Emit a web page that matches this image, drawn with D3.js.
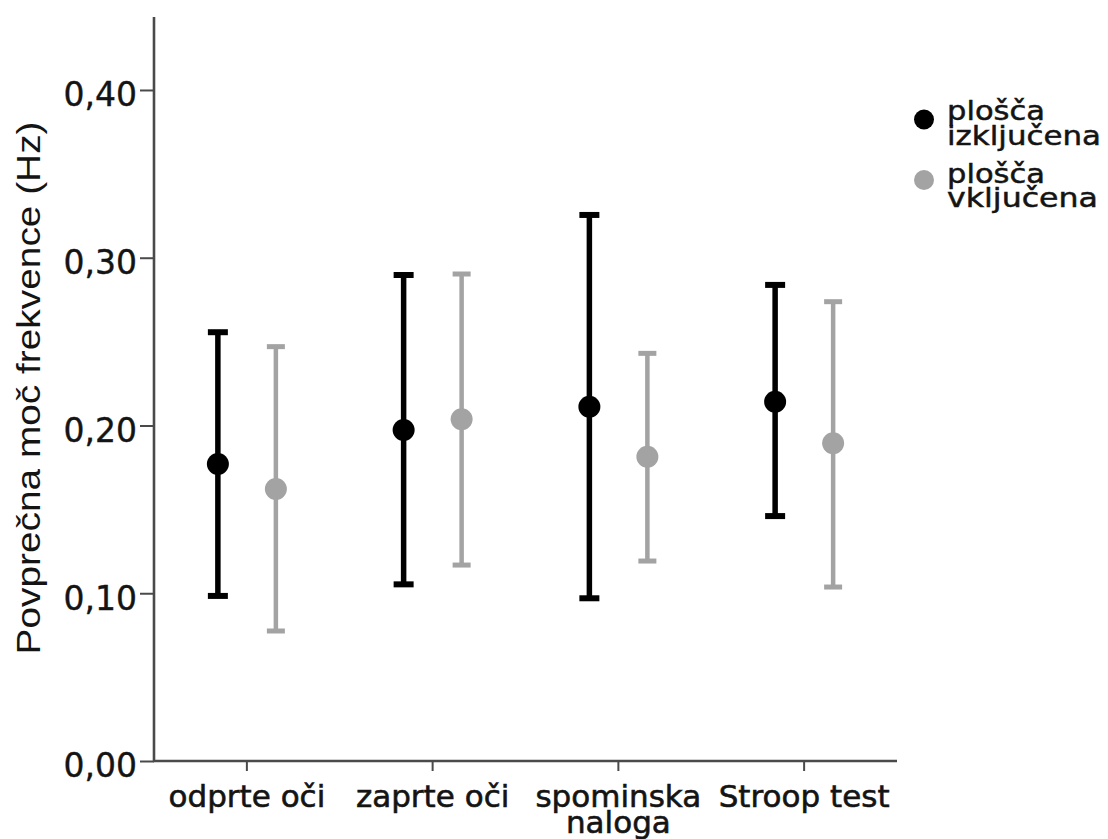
<!DOCTYPE html>
<html>
<head>
<meta charset="utf-8">
<script src="https://cdn.jsdelivr.net/npm/d3@7"></script>
<style>
  html, body { margin: 0; padding: 0; background: #fff; }
  svg { display: block; }
</style>
</head>
<body>
<svg id="chart" width="1108" height="839"></svg>
<script>
// ---- data ----
const categories = ["odprte oči", "zaprte oči", "spominska naloga", "Stroop test"];
const categoryLines = [["odprte oči"], ["zaprte oči"], ["spominska", "naloga"], ["Stroop test"]];
const seriesNames = ["plošča izključena", "plošča vključena"];
const legendLines = [["plošča", "izključena"], ["plošča", "vključena"]];
const meanOff  = [0.1770, 0.1973, 0.2112, 0.2142];
const upperOff = [0.2556, 0.2897, 0.3255, 0.2838];
const lowerOff = [0.0984, 0.1053, 0.0970, 0.1460];
const meanOn   = [0.1621, 0.2037, 0.1814, 0.1894];
const upperOn  = [0.2470, 0.2903, 0.2430, 0.2738];
const lowerOn  = [0.0775, 0.1168, 0.1192, 0.1037];
const yTicks = [0, 0.1, 0.2, 0.3, 0.4];
const yMax = 0.4435;
const yTitle = "Povprečna moč frekvence (Hz)";

const colors = ["#000000", "#a3a3a3"];

(function draw() {
const svg = d3.select("#chart");
const mLeft = 154, mRight = 897, mTop = 17, mBottom = 761;

const x = d3.scaleBand().domain(categories).range([mLeft, mRight]).padding(0);
const xs = d3.scalePoint().domain(seriesNames).range([-29, 29]);
const y = d3.scaleLinear().domain([0, yMax]).range([mBottom, mTop]);

const locale = d3.formatLocale({decimal: ",", thousands: ".", grouping: [3], currency: ["", ""]});
const fmt = locale.format(".2f");

const textColor = "#141414";
// axes
const axisColor = "#4a4a4a";
const yAxis = svg.append("g").attr("transform", `translate(${mLeft},0)`)
  .call(d3.axisLeft(y).tickValues(yTicks).tickFormat(fmt).tickSize(14).tickPadding(3));
yAxis.select(".domain").remove();
yAxis.selectAll(".tick line").attr("stroke", axisColor).attr("stroke-width", 2);
yAxis.selectAll(".tick text")
  .attr("font-family", "DejaVu Sans, Verdana, sans-serif")
  .attr("font-size", 33).attr("fill", textColor)
  .attr("stroke", textColor).attr("stroke-width", 0.4)
  .attr("dy", "0.48em");
svg.append("line").attr("x1", mLeft).attr("x2", mLeft).attr("y1", mTop).attr("y2", mBottom + 1)
  .attr("stroke", axisColor).attr("stroke-width", 2.6);

const xAxis = svg.append("g").attr("transform", `translate(0,${mBottom})`)
  .call(d3.axisBottom(x).tickSize(10).tickFormat(""));
xAxis.select(".domain").remove();
xAxis.selectAll(".tick line").attr("stroke", axisColor).attr("stroke-width", 2);
svg.append("line").attr("x1", mLeft - 1).attr("x2", mRight).attr("y1", mBottom).attr("y2", mBottom)
  .attr("stroke", axisColor).attr("stroke-width", 2.6);

// x labels
categories.forEach((c, i) => {
  const cx = x(c) + x.bandwidth() / 2;
  categoryLines[i].forEach((ln, j) => {
    svg.append("text")
      .attr("x", cx)
      .attr("y", 807 + j * 26)
      .attr("text-anchor", "middle")
      .attr("font-family", "DejaVu Sans, Verdana, sans-serif")
      .attr("font-size", 31).attr("fill", textColor)
      .attr("stroke", textColor).attr("stroke-width", 0.6)
      .text(ln);
  });
});

// y title
svg.append("text")
  .attr("transform", `translate(40,388) rotate(-90)`)
  .attr("text-anchor", "middle")
  .attr("font-family", "Liberation Sans, Arial, sans-serif")
  .attr("font-size", 34).attr("fill", textColor)
  .attr("textLength", 533).attr("lengthAdjust", "spacingAndGlyphs")
  .text(yTitle);

// error bars
const seriesData = [
  {name: seriesNames[0], mean: meanOff, lo: lowerOff, hi: upperOff, color: colors[0], w: 5.5, capW: 20, capH: 6},
  {name: seriesNames[1], mean: meanOn,  lo: lowerOn,  hi: upperOn,  color: colors[1], w: 4.5, capW: 18, capH: 5}
];

seriesData.forEach(s => {
  const g = svg.append("g");
  categories.forEach((c, i) => {
    const cx = x(c) + x.bandwidth() / 2 + xs(s.name);
    g.append("line").attr("x1", cx).attr("x2", cx)
      .attr("y1", y(s.hi[i])).attr("y2", y(s.lo[i]))
      .attr("stroke", s.color).attr("stroke-width", s.w);
    [s.hi[i], s.lo[i]].forEach(v => {
      g.append("line").attr("x1", cx - s.capW / 2).attr("x2", cx + s.capW / 2)
        .attr("y1", y(v)).attr("y2", y(v))
        .attr("stroke", s.color).attr("stroke-width", s.capH);
    });
    g.append("circle").attr("cx", cx).attr("cy", y(s.mean[i])).attr("r", 11)
      .attr("fill", s.color);
  });
});

// legend
const legendDotY = [119.5, 180];
const legendBase = [[120, 145], [183, 207]];
const legendWidths = [[98, 154], [98, 151]];
seriesData.forEach((s, i) => {
  svg.append("circle").attr("cx", 924).attr("cy", legendDotY[i]).attr("r", 10).attr("fill", s.color);
  legendLines[i].forEach((ln, j) => {
    svg.append("text")
      .attr("x", 947).attr("y", legendBase[i][j])
      .attr("font-family", "DejaVu Sans, Verdana, sans-serif")
      .attr("font-size", 27).attr("fill", textColor)
      .attr("stroke", textColor).attr("stroke-width", 0.5)
      .attr("textLength", legendWidths[i][j]).attr("lengthAdjust", "spacingAndGlyphs")
      .text(ln);
  });
});
})();
</script>
</body>
</html>
